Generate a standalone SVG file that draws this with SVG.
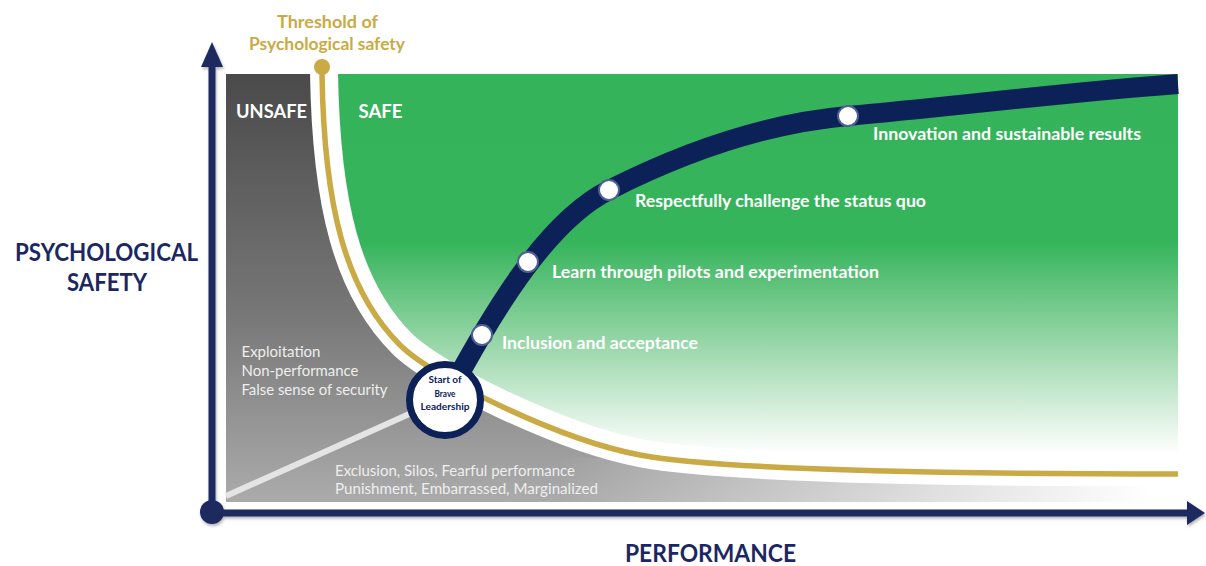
<svg xmlns="http://www.w3.org/2000/svg" width="1206" height="566" viewBox="0 0 1206 566">
  <defs>
    <linearGradient id="grayFill" gradientUnits="userSpaceOnUse" x1="0" y1="74" x2="0" y2="502">
      <stop offset="0" stop-color="#4a4a4a"/>
      <stop offset="0.55" stop-color="#767676"/>
      <stop offset="1" stop-color="#ababab"/>
    </linearGradient>
    <linearGradient id="greenFill" gradientUnits="userSpaceOnUse" x1="0" y1="74" x2="0" y2="474">
      <stop offset="0" stop-color="#34b35a"/>
      <stop offset="0.42" stop-color="#36b45c"/>
      <stop offset="0.7" stop-color="#a2dab0"/>
      <stop offset="0.95" stop-color="#ffffff"/>
    </linearGradient>
    <linearGradient id="bandFade" gradientUnits="userSpaceOnUse" x1="560" y1="0" x2="1150" y2="0">
      <stop offset="0" stop-color="#ffffff" stop-opacity="0"/>
      <stop offset="1" stop-color="#ffffff" stop-opacity="1"/>
    </linearGradient>
    <filter id="soft" x="-5%" y="-5%" width="110%" height="115%">
      <feDropShadow dx="1" dy="2" stdDeviation="1.5" flood-color="#000" flood-opacity="0.3"/>
    </filter>
    <style>
      text { font-family: Lato, "Open Sans", "Liberation Sans", sans-serif; }
      .axis-t { fill: #1b2763; font-weight: 700; font-size: 24px; }
      .thr { fill: #c9aa45; font-weight: 700; font-size: 16.5px; }
      .zone { fill: #ffffff; font-weight: 700; font-size: 19px; }
      .stage { fill: #ffffff; font-weight: 700; font-size: 16.5px; }
      .note { fill: #eeeeee; font-size: 15px; }
      .node-t { fill: #0d2159; font-weight: 700; font-size: 10px; }
      .dot { fill: #ffffff; stroke: #4d5f93; stroke-width: 2; }
      .navy { fill: #1f2a60; }
    </style>
  </defs>

  <!-- unsafe zone: grey area left of / below the threshold curve -->
  <g id="unsafe-zone">
    <path d="M226,74 L322,74 C324,205 345,290 400,345 C433,378 560,440 640,455 C720,470 950,474 1178,474 L1178,502 L226,502 Z" fill="url(#grayFill)"/>
    <rect x="560" y="458" width="622" height="46" fill="url(#bandFade)"/>
    <line x1="226" y1="496" x2="445" y2="398" stroke="#e4e4e4" stroke-width="6"/>
  </g>

  <!-- safe zone: green area above the threshold curve -->
  <g id="safe-zone">
    <path d="M322,74 C324,205 345,290 400,345 C433,378 560,440 640,455 C720,470 950,474 1178,474 L1178,74 Z" fill="url(#greenFill)"/>
  </g>

  <!-- threshold curve with white margin -->
  <g id="threshold">
    <path d="M322,74 C324,205 345,290 400,345 C433,378 560,440 640,455 C720,470 950,474 1178,474" fill="none" stroke="#ffffff" stroke-width="28" transform="translate(2,-1.5)"/>
    <path d="M322,67 L322,74 C324,205 345,290 400,345 C433,378 560,440 640,455 C720,470 950,474 1178,474" fill="none" stroke="#c9aa45" stroke-width="5.5"/>
    <circle cx="322" cy="67" r="8" fill="#c9aa45"/>
    <text class="thr" x="327.5" y="28" text-anchor="middle" textLength="101" lengthAdjust="spacingAndGlyphs">Threshold of</text>
    <text class="thr" x="327" y="50" text-anchor="middle" textLength="156" lengthAdjust="spacingAndGlyphs">Psychological safety</text>
  </g>

  <!-- zone labels and notes -->
  <g id="zone-labels">
    <text class="zone" x="236" y="118" textLength="71" lengthAdjust="spacingAndGlyphs">UNSAFE</text>
    <text class="zone" x="358.5" y="118" textLength="44" lengthAdjust="spacingAndGlyphs">SAFE</text>
    <text class="note" x="241.5" y="357" textLength="79" lengthAdjust="spacingAndGlyphs">Exploitation</text>
    <text class="note" x="241.5" y="376" textLength="117" lengthAdjust="spacingAndGlyphs">Non-performance</text>
    <text class="note" x="241.5" y="395" textLength="146" lengthAdjust="spacingAndGlyphs">False sense of security</text>
    <text class="note" x="335" y="476" textLength="240" lengthAdjust="spacingAndGlyphs">Exclusion, Silos, Fearful performance</text>
    <text class="note" x="335" y="494" textLength="263" lengthAdjust="spacingAndGlyphs">Punishment, Embarrassed, Marginalized</text>
  </g>

  <!-- brave leadership path -->
  <g id="connectors">
    <path d="M445,400 C485,328 540,225 609,190 C692,148 770,123 848,116 C957,106 1070,92 1178,84" fill="none" stroke="#0d2159" stroke-width="20"/>
  </g>

  <g id="start-node">
    <circle cx="445" cy="400" r="35.5" fill="#ffffff" stroke="#0d2159" stroke-width="7"/>
    <text class="node-t" x="445" y="383" text-anchor="middle" textLength="33" lengthAdjust="spacingAndGlyphs">Start of</text>
    <text class="node-t" x="445" y="397" text-anchor="middle" textLength="21" lengthAdjust="spacingAndGlyphs">Brave</text>
    <text class="node-t" x="445" y="410" text-anchor="middle" textLength="49" lengthAdjust="spacingAndGlyphs">Leadership</text>
  </g>

  <g id="stage-inclusion">
    <circle class="dot" cx="482" cy="335" r="10"/>
    <text class="stage" x="502" y="349" textLength="196" lengthAdjust="spacingAndGlyphs">Inclusion and acceptance</text>
  </g>
  <g id="stage-learn">
    <circle class="dot" cx="528" cy="262" r="10"/>
    <text class="stage" x="552" y="278" textLength="327" lengthAdjust="spacingAndGlyphs">Learn through pilots and experimentation</text>
  </g>
  <g id="stage-challenge">
    <circle class="dot" cx="609" cy="190" r="10"/>
    <text class="stage" x="635" y="207" textLength="291" lengthAdjust="spacingAndGlyphs">Respectfully challenge the status quo</text>
  </g>
  <g id="stage-innovation">
    <circle class="dot" cx="848" cy="116" r="10"/>
    <text class="stage" x="873" y="140" textLength="268" lengthAdjust="spacingAndGlyphs">Innovation and sustainable results</text>
  </g>

  <!-- axes -->
  <g id="axes" filter="url(#soft)">
    <rect class="navy" x="208.5" y="62" width="7" height="452"/>
    <polygon class="navy" points="212,42 223,67 201,67"/>
    <rect class="navy" x="212" y="509.5" width="978" height="7"/>
    <polygon class="navy" points="1205,513 1187,501 1187,525"/>
    <circle class="navy" cx="212" cy="512" r="12"/>
  </g>
  <g id="axis-labels">
    <text class="axis-t" x="15" y="261" textLength="183" lengthAdjust="spacingAndGlyphs">PSYCHOLOGICAL</text>
    <text class="axis-t" x="67" y="291" textLength="80" lengthAdjust="spacingAndGlyphs">SAFETY</text>
    <text class="axis-t" x="625" y="562" textLength="171" lengthAdjust="spacingAndGlyphs">PERFORMANCE</text>
  </g>
</svg>
